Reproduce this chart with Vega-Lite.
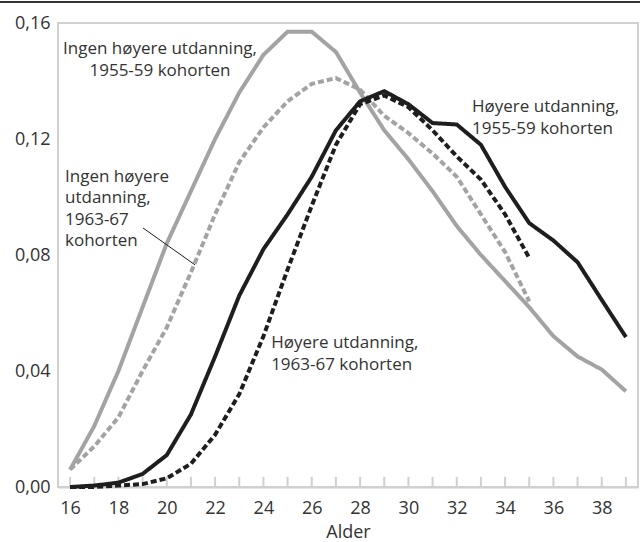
{
  "$schema": "https://vega.github.io/schema/vega-lite/v6.json",
  "width": 580,
  "height": 464,
  "autosize": {"type": "none"},
  "padding": {"left": 58, "top": 23, "right": 2, "bottom": 55},
  "background": "white",
  "config": {
    "font": "Open Sans",
    "view": {"stroke": "#d0d0d0", "strokeWidth": 2},
    "axis": {
      "labelFont": "Open Sans",
      "titleFont": "Open Sans",
      "labelFontSize": 18,
      "titleFontSize": 18,
      "labelColor": "#333333",
      "titleColor": "#333333",
      "titleFontWeight": "normal",
      "gridColor": "#d0d0d0",
      "gridWidth": 2,
      "domainColor": "#d0d0d0",
      "domainWidth": 2,
      "tickColor": "#d0d0d0",
      "tickWidth": 2
    }
  },
  "data": {
    "values": [
      {"alder": 16, "andel": 0.006, "serie": "Ingen høyere utdanning, 1955-59"},
      {"alder": 17, "andel": 0.021, "serie": "Ingen høyere utdanning, 1955-59"},
      {"alder": 18, "andel": 0.040, "serie": "Ingen høyere utdanning, 1955-59"},
      {"alder": 19, "andel": 0.062, "serie": "Ingen høyere utdanning, 1955-59"},
      {"alder": 20, "andel": 0.084, "serie": "Ingen høyere utdanning, 1955-59"},
      {"alder": 21, "andel": 0.102, "serie": "Ingen høyere utdanning, 1955-59"},
      {"alder": 22, "andel": 0.120, "serie": "Ingen høyere utdanning, 1955-59"},
      {"alder": 23, "andel": 0.136, "serie": "Ingen høyere utdanning, 1955-59"},
      {"alder": 24, "andel": 0.149, "serie": "Ingen høyere utdanning, 1955-59"},
      {"alder": 25, "andel": 0.157, "serie": "Ingen høyere utdanning, 1955-59"},
      {"alder": 26, "andel": 0.157, "serie": "Ingen høyere utdanning, 1955-59"},
      {"alder": 27, "andel": 0.150, "serie": "Ingen høyere utdanning, 1955-59"},
      {"alder": 28, "andel": 0.136, "serie": "Ingen høyere utdanning, 1955-59"},
      {"alder": 29, "andel": 0.123, "serie": "Ingen høyere utdanning, 1955-59"},
      {"alder": 30, "andel": 0.113, "serie": "Ingen høyere utdanning, 1955-59"},
      {"alder": 31, "andel": 0.102, "serie": "Ingen høyere utdanning, 1955-59"},
      {"alder": 32, "andel": 0.090, "serie": "Ingen høyere utdanning, 1955-59"},
      {"alder": 33, "andel": 0.080, "serie": "Ingen høyere utdanning, 1955-59"},
      {"alder": 34, "andel": 0.071, "serie": "Ingen høyere utdanning, 1955-59"},
      {"alder": 35, "andel": 0.062, "serie": "Ingen høyere utdanning, 1955-59"},
      {"alder": 36, "andel": 0.052, "serie": "Ingen høyere utdanning, 1955-59"},
      {"alder": 37, "andel": 0.045, "serie": "Ingen høyere utdanning, 1955-59"},
      {"alder": 38, "andel": 0.0405, "serie": "Ingen høyere utdanning, 1955-59"},
      {"alder": 39, "andel": 0.033, "serie": "Ingen høyere utdanning, 1955-59"},
      {"alder": 16, "andel": 0.006, "serie": "Ingen høyere utdanning, 1963-67"},
      {"alder": 17, "andel": 0.014, "serie": "Ingen høyere utdanning, 1963-67"},
      {"alder": 18, "andel": 0.024, "serie": "Ingen høyere utdanning, 1963-67"},
      {"alder": 19, "andel": 0.040, "serie": "Ingen høyere utdanning, 1963-67"},
      {"alder": 20, "andel": 0.055, "serie": "Ingen høyere utdanning, 1963-67"},
      {"alder": 21, "andel": 0.074, "serie": "Ingen høyere utdanning, 1963-67"},
      {"alder": 22, "andel": 0.094, "serie": "Ingen høyere utdanning, 1963-67"},
      {"alder": 23, "andel": 0.112, "serie": "Ingen høyere utdanning, 1963-67"},
      {"alder": 24, "andel": 0.124, "serie": "Ingen høyere utdanning, 1963-67"},
      {"alder": 25, "andel": 0.133, "serie": "Ingen høyere utdanning, 1963-67"},
      {"alder": 26, "andel": 0.139, "serie": "Ingen høyere utdanning, 1963-67"},
      {"alder": 27, "andel": 0.141, "serie": "Ingen høyere utdanning, 1963-67"},
      {"alder": 28, "andel": 0.137, "serie": "Ingen høyere utdanning, 1963-67"},
      {"alder": 29, "andel": 0.128, "serie": "Ingen høyere utdanning, 1963-67"},
      {"alder": 30, "andel": 0.122, "serie": "Ingen høyere utdanning, 1963-67"},
      {"alder": 31, "andel": 0.115, "serie": "Ingen høyere utdanning, 1963-67"},
      {"alder": 32, "andel": 0.107, "serie": "Ingen høyere utdanning, 1963-67"},
      {"alder": 33, "andel": 0.094, "serie": "Ingen høyere utdanning, 1963-67"},
      {"alder": 34, "andel": 0.081, "serie": "Ingen høyere utdanning, 1963-67"},
      {"alder": 35, "andel": 0.064, "serie": "Ingen høyere utdanning, 1963-67"},
      {"alder": 16, "andel": 0.0, "serie": "Høyere utdanning, 1955-59"},
      {"alder": 17, "andel": 0.0005, "serie": "Høyere utdanning, 1955-59"},
      {"alder": 18, "andel": 0.0015, "serie": "Høyere utdanning, 1955-59"},
      {"alder": 19, "andel": 0.0045, "serie": "Høyere utdanning, 1955-59"},
      {"alder": 20, "andel": 0.011, "serie": "Høyere utdanning, 1955-59"},
      {"alder": 21, "andel": 0.025, "serie": "Høyere utdanning, 1955-59"},
      {"alder": 22, "andel": 0.045, "serie": "Høyere utdanning, 1955-59"},
      {"alder": 23, "andel": 0.066, "serie": "Høyere utdanning, 1955-59"},
      {"alder": 24, "andel": 0.082, "serie": "Høyere utdanning, 1955-59"},
      {"alder": 25, "andel": 0.094, "serie": "Høyere utdanning, 1955-59"},
      {"alder": 26, "andel": 0.107, "serie": "Høyere utdanning, 1955-59"},
      {"alder": 27, "andel": 0.123, "serie": "Høyere utdanning, 1955-59"},
      {"alder": 28, "andel": 0.133, "serie": "Høyere utdanning, 1955-59"},
      {"alder": 29, "andel": 0.1365, "serie": "Høyere utdanning, 1955-59"},
      {"alder": 30, "andel": 0.132, "serie": "Høyere utdanning, 1955-59"},
      {"alder": 31, "andel": 0.1255, "serie": "Høyere utdanning, 1955-59"},
      {"alder": 32, "andel": 0.125, "serie": "Høyere utdanning, 1955-59"},
      {"alder": 33, "andel": 0.118, "serie": "Høyere utdanning, 1955-59"},
      {"alder": 34, "andel": 0.1035, "serie": "Høyere utdanning, 1955-59"},
      {"alder": 35, "andel": 0.091, "serie": "Høyere utdanning, 1955-59"},
      {"alder": 36, "andel": 0.085, "serie": "Høyere utdanning, 1955-59"},
      {"alder": 37, "andel": 0.0775, "serie": "Høyere utdanning, 1955-59"},
      {"alder": 38, "andel": 0.0645, "serie": "Høyere utdanning, 1955-59"},
      {"alder": 39, "andel": 0.0517, "serie": "Høyere utdanning, 1955-59"},
      {"alder": 16, "andel": 0.0, "serie": "Høyere utdanning, 1963-67"},
      {"alder": 17, "andel": 0.0, "serie": "Høyere utdanning, 1963-67"},
      {"alder": 18, "andel": 0.0005, "serie": "Høyere utdanning, 1963-67"},
      {"alder": 19, "andel": 0.001, "serie": "Høyere utdanning, 1963-67"},
      {"alder": 20, "andel": 0.003, "serie": "Høyere utdanning, 1963-67"},
      {"alder": 21, "andel": 0.008, "serie": "Høyere utdanning, 1963-67"},
      {"alder": 22, "andel": 0.018, "serie": "Høyere utdanning, 1963-67"},
      {"alder": 23, "andel": 0.032, "serie": "Høyere utdanning, 1963-67"},
      {"alder": 24, "andel": 0.052, "serie": "Høyere utdanning, 1963-67"},
      {"alder": 25, "andel": 0.075, "serie": "Høyere utdanning, 1963-67"},
      {"alder": 26, "andel": 0.097, "serie": "Høyere utdanning, 1963-67"},
      {"alder": 27, "andel": 0.118, "serie": "Høyere utdanning, 1963-67"},
      {"alder": 28, "andel": 0.132, "serie": "Høyere utdanning, 1963-67"},
      {"alder": 29, "andel": 0.135, "serie": "Høyere utdanning, 1963-67"},
      {"alder": 30, "andel": 0.131, "serie": "Høyere utdanning, 1963-67"},
      {"alder": 31, "andel": 0.123, "serie": "Høyere utdanning, 1963-67"},
      {"alder": 32, "andel": 0.114, "serie": "Høyere utdanning, 1963-67"},
      {"alder": 33, "andel": 0.106, "serie": "Høyere utdanning, 1963-67"},
      {"alder": 34, "andel": 0.094, "serie": "Høyere utdanning, 1963-67"},
      {"alder": 35, "andel": 0.079, "serie": "Høyere utdanning, 1963-67"}
    ]
  },
  "layer": [
    {
      "mark": {"type": "rule", "color": "#333333", "strokeWidth": 2, "clip": false},
      "encoding": {
        "x": {"datum": 13.1, "type": "quantitative", "scale": {"domain": [15.5, 39.5], "nice": false, "zero": false}},
        "x2": {"datum": 39.6},
        "y": {"datum": 0.1672, "type": "quantitative"}
      }
    },
    {
      "transform": [{"filter": "datum.serie == 'Ingen høyere utdanning, 1955-59'"}],
      "mark": {"type": "rule", "color": "#d0d0d0", "strokeWidth": 2},
      "encoding": {
        "x": {"field": "alder", "type": "quantitative"},
        "y": {"datum": 0, "type": "quantitative"},
        "y2": {"datum": 0.0035}
      }
    },
    {
      "mark": {"type": "line", "strokeWidth": 4, "strokeCap": "butt", "strokeJoin": "miter"},
      "encoding": {
        "x": {
          "field": "alder", "type": "quantitative",
          "scale": {"domain": [15.5, 39.5], "nice": false, "zero": false},
          "axis": {
            "title": "Alder",
            "values": [16,18,20,22,24,26,28,30,32,34,36,38],
            "grid": false,
            "ticks": false,
            "labelPadding": 12,
            "titlePadding": 6
          }
        },
        "y": {
          "field": "andel", "type": "quantitative",
          "scale": {"domain": [0, 0.16], "nice": false},
          "axis": {
            "title": null,
            "values": [0, 0.04, 0.08, 0.12, 0.16],
            "labelExpr": "replace(format(datum.value, '.2f'), '.', ',')",
            "ticks": false,
            "domain": false,
            "labelPadding": 8
          }
        },
        "color": {
          "field": "serie", "type": "nominal", "legend": null,
          "scale": {
            "domain": ["Ingen høyere utdanning, 1955-59", "Ingen høyere utdanning, 1963-67", "Høyere utdanning, 1955-59", "Høyere utdanning, 1963-67"],
            "range": ["#a3a3a3", "#a3a3a3", "#1e1e1e", "#1e1e1e"]
          }
        },
        "strokeDash": {
          "field": "serie", "type": "nominal", "legend": null,
          "scale": {
            "domain": ["Ingen høyere utdanning, 1955-59", "Ingen høyere utdanning, 1963-67", "Høyere utdanning, 1955-59", "Høyere utdanning, 1963-67"],
            "range": [[1, 0], [6, 3], [1, 0], [6, 3]]
          }
        }
      }
    },
    {
      "data": {"values": [
        {"x": 19.02, "y": 0.0893, "x2": 21.17, "y2": 0.0766}
      ]},
      "mark": {"type": "rule", "color": "#1e1e1e", "strokeWidth": 1},
      "encoding": {
        "x": {"field": "x", "type": "quantitative"},
        "x2": {"field": "x2"},
        "y": {"field": "y", "type": "quantitative"},
        "y2": {"field": "y2"}
      }
    },
    {
      "data": {"values": [
        {"x": 19.72, "y": 0.1493, "tekst": "Ingen høyere utdanning,\n1955-59 kohorten"}
      ]},
      "mark": {"type": "text", "align": "center", "baseline": "alphabetic", "fontSize": 17, "lineBreak": "\n", "lineHeight": 21.5, "color": "#333333"},
      "encoding": {
        "x": {"field": "x", "type": "quantitative"},
        "y": {"field": "y", "type": "quantitative"},
        "text": {"field": "tekst"}
      }
    },
    {
      "data": {"values": [
        {"x": 15.79, "y": 0.1052, "tekst": "Ingen høyere\nutdanning,\n1963-67\nkohorten"},
        {"x": 32.63, "y": 0.1293, "tekst": "Høyere utdanning,\n1955-59 kohorten"},
        {"x": 24.32, "y": 0.0479, "tekst": "Høyere utdanning,\n1963-67 kohorten"}
      ]},
      "mark": {"type": "text", "align": "left", "baseline": "alphabetic", "fontSize": 17, "lineBreak": "\n", "lineHeight": 21.5, "color": "#333333"},
      "encoding": {
        "x": {"field": "x", "type": "quantitative"},
        "y": {"field": "y", "type": "quantitative"},
        "text": {"field": "tekst"}
      }
    }
  ]
}
